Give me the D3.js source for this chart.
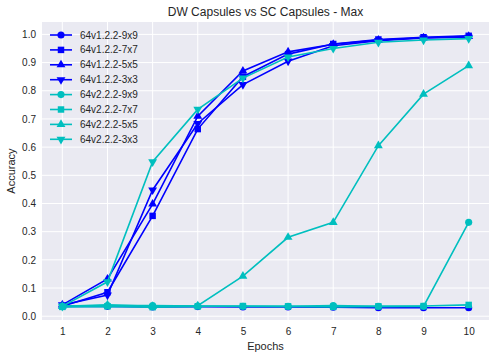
<!DOCTYPE html>
<html>
<head>
<meta charset="utf-8">
<script src="https://cdn.jsdelivr.net/npm/d3@7"></script>
<style>
  body { margin: 0; background: #fff; }
  svg { display: block; font-family: "Liberation Sans", Arial, sans-serif; }
</style>
</head>
<body>
<div id="chart"></div>
<script>
// Chart data
var epochs = [1, 2, 3, 4, 5, 6, 7, 8, 9, 10];
var yTicks = [0.0, 0.1, 0.2, 0.3, 0.4, 0.5, 0.6, 0.7, 0.8, 0.9, 1.0];
var seriesNames = ['64v1.2.2-9x9', '64v1.2.2-7x7', '64v1.2.2-5x5', '64v1.2.2-3x3',
                   '64v2.2.2-9x9', '64v2.2.2-7x7', '64v2.2.2-5x5', '64v2.2.2-3x3'];
var v1_9x9 = [0.035, 0.035, 0.033, 0.034, 0.033, 0.033, 0.032, 0.030, 0.030, 0.030];
var v1_7x7 = [0.035, 0.085, 0.356, 0.664, 0.850, 0.930, 0.966, 0.982, 0.990, 0.995];
var v1_5x5 = [0.040, 0.132, 0.398, 0.710, 0.870, 0.938, 0.965, 0.980, 0.988, 0.993];
var v1_3x3 = [0.040, 0.075, 0.448, 0.684, 0.822, 0.905, 0.960, 0.978, 0.987, 0.990];
var v2_9x9 = [0.035, 0.038, 0.038, 0.036, 0.035, 0.035, 0.038, 0.035, 0.035, 0.333];
var v2_7x7 = [0.033, 0.035, 0.032, 0.035, 0.036, 0.035, 0.033, 0.035, 0.036, 0.040];
var v2_5x5 = [0.035, 0.040, 0.035, 0.037, 0.142, 0.280, 0.333, 0.605, 0.788, 0.889];
var v2_3x3 = [0.035, 0.122, 0.548, 0.734, 0.845, 0.920, 0.950, 0.972, 0.980, 0.985];

(function() {
  'use strict';

  var width = 495, height = 359;
  var margin = { left: 42, right: 6, top: 22, bottom: 39 };
  var textColor = '#262626';
  var blue = '#0000ff', cyan = '#00bfbf';

  var series = [
    { name: seriesNames[0], values: v1_9x9, color: blue, marker: 'circle' },
    { name: seriesNames[1], values: v1_7x7, color: blue, marker: 'square' },
    { name: seriesNames[2], values: v1_5x5, color: blue, marker: 'triangle' },
    { name: seriesNames[3], values: v1_3x3, color: blue, marker: 'triangleDown' },
    { name: seriesNames[4], values: v2_9x9, color: cyan, marker: 'circle' },
    { name: seriesNames[5], values: v2_7x7, color: cyan, marker: 'square' },
    { name: seriesNames[6], values: v2_5x5, color: cyan, marker: 'triangle' },
    { name: seriesNames[7], values: v2_3x3, color: cyan, marker: 'triangleDown' }
  ];

  var svg = d3.select('#chart').append('svg')
    .attr('width', width)
    .attr('height', height);

  var x = d3.scaleLinear()
    .domain([0.55, 10.45])
    .range([margin.left, width - margin.right]);
  var y = d3.scaleLinear()
    .domain([-0.0135, 1.044])
    .range([height - margin.bottom, margin.top]);

  // Plot background
  svg.append('rect')
    .attr('x', margin.left).attr('y', margin.top)
    .attr('width', width - margin.left - margin.right)
    .attr('height', height - margin.top - margin.bottom)
    .style('fill', '#eaeaf2');

  // Grid
  var grid = svg.append('g');
  grid.selectAll('.gx').data(epochs).join('line')
    .attr('x1', function(d) { return x(d); }).attr('x2', function(d) { return x(d); })
    .attr('y1', margin.top).attr('y2', height - margin.bottom)
    .style('stroke', '#fff').style('stroke-width', 1);
  grid.selectAll('.gy').data(yTicks).join('line')
    .attr('x1', margin.left).attr('x2', width - margin.right)
    .attr('y1', function(d) { return y(d); }).attr('y2', function(d) { return y(d); })
    .style('stroke', '#fff').style('stroke-width', 1);

  // Axes (no domain lines, no tick marks)
  var xAxis = svg.append('g')
    .attr('transform', 'translate(0,' + (height - margin.bottom) + ')')
    .call(d3.axisBottom(x).tickValues(epochs).tickFormat(d3.format('d')).tickSize(0).tickPadding(8));
  var yAxis = svg.append('g')
    .attr('transform', 'translate(' + margin.left + ',0)')
    .call(d3.axisLeft(y).tickValues(yTicks).tickFormat(d3.format('.1f')).tickSize(0).tickPadding(6));
  [xAxis, yAxis].forEach(function(a) {
    a.select('.domain').remove();
    a.selectAll('text')
      .style('font-size', '10px')
      .style('font-family', '"Liberation Sans", Arial, sans-serif')
      .style('fill', textColor);
  });

  // Marker shapes
  var symbolFor = {
    circle: d3.symbol().type(d3.symbolCircle).size(40),
    square: d3.symbol().type(d3.symbolSquare).size(42),
    triangle: d3.symbol().type(d3.symbolTriangle).size(34),
    triangleDown: d3.symbol().type(d3.symbolTriangle).size(34)
  };
  function markerTransform(m, px, py) {
    return 'translate(' + px + ',' + py + ')' + (m === 'triangleDown' ? ' rotate(180)' : '');
  }

  var line = d3.line()
    .x(function(d, i) { return x(epochs[i]); })
    .y(function(d) { return y(d); });

  var plot = svg.append('g');
  series.forEach(function(s) {
    var g = plot.append('g');
    g.append('path')
      .datum(s.values)
      .attr('d', line)
      .style('fill', 'none')
      .style('stroke', s.color)
      .style('stroke-width', 1.6);
    g.selectAll('path.mk').data(s.values).join('path')
      .attr('class', 'mk')
      .attr('d', symbolFor[s.marker])
      .attr('transform', function(d, i) { return markerTransform(s.marker, x(epochs[i]), y(d)); })
      .style('fill', s.color);
  });

  // Legend
  var legend = svg.append('g');
  series.forEach(function(s, i) {
    var ly = 35 + i * 14.9;
    legend.append('line')
      .attr('x1', 50).attr('x2', 72)
      .attr('y1', ly).attr('y2', ly)
      .style('stroke', s.color).style('stroke-width', 1.6);
    legend.append('path')
      .attr('d', symbolFor[s.marker])
      .attr('transform', markerTransform(s.marker, 61, ly))
      .style('fill', s.color);
    legend.append('text')
      .attr('x', 80).attr('y', ly)
      .attr('dy', '0.35em')
      .style('font-size', '10px')
      .style('fill', textColor)
      .text(s.name);
  });

  // Title and axis labels
  svg.append('text')
    .attr('x', (margin.left + width - margin.right) / 2)
    .attr('y', 16)
    .attr('text-anchor', 'middle')
    .style('font-size', '12px')
    .style('fill', textColor)
    .text('DW Capsules vs SC Capsules - Max');
  svg.append('text')
    .attr('x', (margin.left + width - margin.right) / 2)
    .attr('y', 350)
    .attr('text-anchor', 'middle')
    .style('font-size', '11px')
    .style('fill', textColor)
    .text('Epochs');
  svg.append('text')
    .attr('transform', 'translate(15,' + ((margin.top + height - margin.bottom) / 2) + ') rotate(-90)')
    .attr('text-anchor', 'middle')
    .style('font-size', '11px')
    .style('fill', textColor)
    .text('Accuracy');
})();
</script>
</body>
</html>
